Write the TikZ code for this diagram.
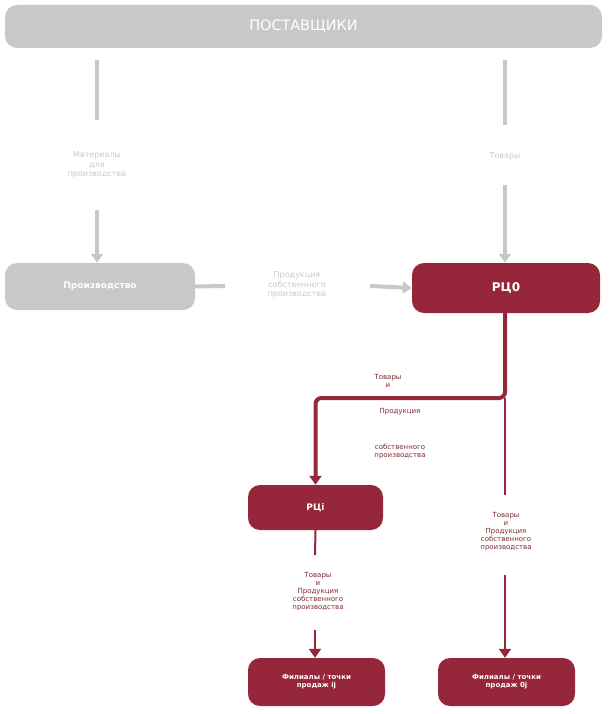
\documentclass[tikz,border=0pt]{standalone}
\usepackage{fontspec}
\setmainfont{DejaVu Sans}
\usetikzlibrary{arrows.meta,positioning}
\definecolor{boxgrey}{HTML}{C8C8C8}
\definecolor{boxred}{HTML}{96263A}
\definecolor{labred}{HTML}{7A2A30}
\begin{document}
\begin{tikzpicture}[x=1pt,y=-1pt,
    grey box/.style={rounded corners=12pt,fill=boxgrey,text=white,font=\bfseries\small},
    red box/.style={rounded corners=12pt,fill=boxred,text=white,font=\bfseries\small,align=center},
    grey label/.style={text=boxgrey,font=\footnotesize,align=center},
    red label/.style={text=labred,font=\scriptsize,align=center},
    grey line/.style={draw=boxgrey,line width=4pt},
    red line/.style={draw=boxred,line width=2pt},
    tip/.style={-{Triangle[length=9pt,width=12pt]}}]
  \useasboundingbox (0,0) rectangle (609,714);

  \node[grey box,minimum width=597pt,minimum height=43pt,font=\Large] (sup) at (303.5,26.5) {ПОСТАВЩИКИ};
  \node[grey box,minimum width=190pt,minimum height=47pt] (prod) at (100,286.5) {Производство};
  \node[red box,minimum width=188pt,minimum height=50pt,font=\bfseries\large] (rc0) at (506,288) {РЦ0};
  \node[red box,minimum width=135pt,minimum height=45pt] (rci) at (315.5,507.5) {РЦi};
  \node[red box,minimum width=137pt,minimum height=48pt,font=\bfseries\scriptsize] (fij) at (316.5,682) {Филиалы / точки\\продаж ij};
  \node[red box,minimum width=137pt,minimum height=48pt,font=\bfseries\scriptsize] (f0j) at (506.5,682) {Филиалы / точки\\продаж 0j};

  % labels
  \node[grey label] (mat) at (97,165) {Материалы\\для\\производства};
  \node[grey label] (tov) at (505,156) {Товары};
  \node[grey label] (own) at (297,285) {Продукция\\собственного\\производства};
  \node[red label] (l1) at (388,381) {Товары\\и};
  \node[red label] (l2) at (400,412) {Продукция};
  \node[red label] (l3) at (400,452) {собственного\\производства};
  \node[red label] (l4) at (506,532) {Товары\\и\\Продукция\\собственного\\производства};
  \node[red label] (l5) at (318,592) {Товары\\и\\Продукция\\собственного\\производства};

  \coordinate (m1) at (97,60);   \coordinate (m2) at (97,120);  \coordinate (m3) at (97,210);
  \coordinate (t1) at (505,60);  \coordinate (t2) at (505,125); \coordinate (t3) at (505,185);
  \coordinate (p1) at (225,286); \coordinate (p2) at (370,286);
  \coordinate (turn) at (505,398); \coordinate (down) at (505,495);
  \coordinate (f1) at (505,575); \coordinate (i1) at (315,555); \coordinate (i2) at (315,630);

  \draw[grey line] (m1) -- (m2);
  \draw[grey line,tip] (m3) -- (prod.north -| m3);
  \draw[grey line] (t1) -- (t2);
  \draw[grey line,tip] (t3) -- (rc0.north -| t3);
  \draw[grey line] (prod.east) -- (p1);
  \draw[grey line,tip] (p2) -- (rc0.west);

  \draw[red line,line width=4pt,rounded corners=6pt,tip] (rc0.south -| turn) -- (turn) -- (turn -| rci) -- (rci.north);
  \draw[red line] (turn) -- (down);
  \draw[red line,tip] (f1) -- (f0j.north -| f1);
  \draw[red line] (rci.south) -- (i1);
  \draw[red line,tip] (i2) -- (fij.north -| i2);
\end{tikzpicture}
\end{document}
